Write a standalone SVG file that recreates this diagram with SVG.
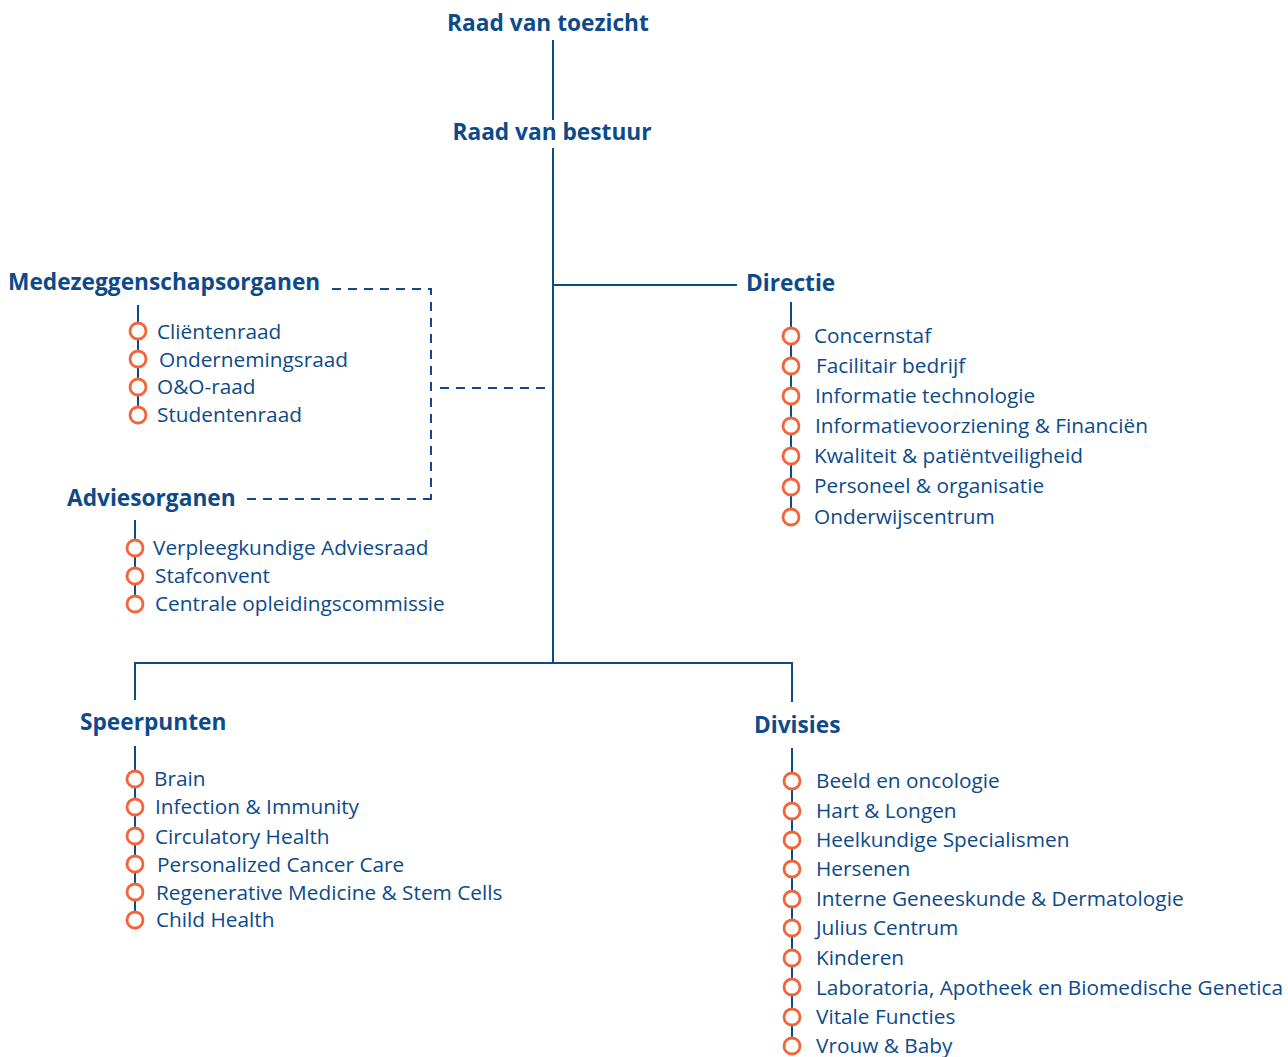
<svg xmlns="http://www.w3.org/2000/svg" width="1288" height="1057" viewBox="0 0 1288 1057">
<style>
.h{font-family:"Open Sans","Liberation Sans",sans-serif;font-weight:bold;font-size:22.7px;fill:#0d4a8a}
.t{font-family:"Open Sans","Liberation Sans",sans-serif;font-size:20.8px;fill:#0d4a8a}
.ln{stroke:#0d4a8a;stroke-width:2;fill:none}
.d{stroke:#0d4a8a;stroke-width:2;fill:none;stroke-dasharray:9,7}
.c{fill:#fff;stroke:#f4643a;stroke-width:2.8}
</style>
<rect width="1288" height="1057" fill="#fff"/>
<g id="connectors">
<path class="ln" d="M553 40V120M553 148V663M553 285H737M135 700V663H792V702"/>
<path class="d" d="M332 289H431V500M247 499H431M440 388H545"/>
</g>
<g id="raad-toezicht"><text class="h" x="548" y="31" text-anchor="middle">Raad van toezicht</text></g>
<g id="raad-bestuur"><text class="h" x="552" y="140" text-anchor="middle">Raad van bestuur</text></g>
<g id="directie">
<text class="h" x="746" y="291">Directie</text>
<path class="ln" d="M791 302V517"/>
<circle class="c" cx="791" cy="336" r="8"/><circle class="c" cx="791" cy="366" r="8"/><circle class="c" cx="791" cy="396" r="8"/><circle class="c" cx="791" cy="426" r="8"/><circle class="c" cx="791" cy="456" r="8"/><circle class="c" cx="791" cy="487" r="8"/><circle class="c" cx="791" cy="517" r="8"/>
<text class="t" x="814" y="343">Concernstaf</text>
<text class="t" x="816" y="373">Facilitair bedrijf</text>
<text class="t" x="815" y="403">Informatie technologie</text>
<text class="t" x="815" y="433">Informatievoorziening &amp; Financiën</text>
<text class="t" x="814" y="463">Kwaliteit &amp; patiëntveiligheid</text>
<text class="t" x="814" y="493">Personeel &amp; organisatie</text>
<text class="t" x="814" y="524">Onderwijscentrum</text>
</g>
<g id="medezeggenschap">
<text class="h" x="8" y="290">Medezeggenschapsorganen</text>
<path class="ln" d="M138 305V415"/>
<circle class="c" cx="138" cy="331" r="8"/><circle class="c" cx="138" cy="359" r="8"/><circle class="c" cx="138" cy="387" r="8"/><circle class="c" cx="138" cy="415" r="8"/>
<text class="t" x="157" y="339">Cliëntenraad</text>
<text class="t" x="159" y="367">Ondernemingsraad</text>
<text class="t" x="157" y="394">O&amp;O-raad</text>
<text class="t" x="157" y="422">Studentenraad</text>
</g>
<g id="adviesorganen">
<text class="h" x="67" y="506">Adviesorganen</text>
<path class="ln" d="M135 520V604"/>
<circle class="c" cx="135" cy="548" r="8"/><circle class="c" cx="135" cy="576" r="8"/><circle class="c" cx="135" cy="604" r="8"/>
<text class="t" x="153" y="555">Verpleegkundige Adviesraad</text>
<text class="t" x="155" y="583">Stafconvent</text>
<text class="t" x="155" y="611">Centrale opleidingscommissie</text>
</g>
<g id="speerpunten">
<text class="h" x="80" y="730">Speerpunten</text>
<path class="ln" d="M135 746V920"/>
<circle class="c" cx="135" cy="779" r="8"/><circle class="c" cx="135" cy="807" r="8"/><circle class="c" cx="135" cy="836" r="8"/><circle class="c" cx="135" cy="864" r="8"/><circle class="c" cx="135" cy="892" r="8"/><circle class="c" cx="135" cy="920" r="8"/>
<text class="t" x="154" y="786">Brain</text>
<text class="t" x="155" y="814">Infection &amp; Immunity</text>
<text class="t" x="155" y="844">Circulatory Health</text>
<text class="t" x="157" y="872">Personalized Cancer Care</text>
<text class="t" x="156" y="900">Regenerative Medicine &amp; Stem Cells</text>
<text class="t" x="156" y="927">Child Health</text>
</g>
<g id="divisies">
<text class="h" x="754" y="733">Divisies</text>
<path class="ln" d="M792 748V1046"/>
<circle class="c" cx="792" cy="781" r="8"/><circle class="c" cx="792" cy="811" r="8"/><circle class="c" cx="792" cy="840" r="8"/><circle class="c" cx="792" cy="869" r="8"/><circle class="c" cx="792" cy="899" r="8"/><circle class="c" cx="792" cy="928" r="8"/><circle class="c" cx="792" cy="958" r="8"/><circle class="c" cx="792" cy="987" r="8"/><circle class="c" cx="792" cy="1017" r="8"/><circle class="c" cx="792" cy="1046" r="8"/>
<text class="t" x="816" y="788">Beeld en oncologie</text>
<text class="t" x="816" y="818">Hart &amp; Longen</text>
<text class="t" x="816" y="847">Heelkundige Specialismen</text>
<text class="t" x="816" y="876">Hersenen</text>
<text class="t" x="816" y="906">Interne Geneeskunde &amp; Dermatologie</text>
<text class="t" x="816" y="935">Julius Centrum</text>
<text class="t" x="816" y="965">Kinderen</text>
<text class="t" x="816" y="995">Laboratoria, Apotheek en Biomedische Genetica</text>
<text class="t" x="816" y="1024">Vitale Functies</text>
<text class="t" x="816" y="1053">Vrouw &amp; Baby</text>
</g>
</svg>
